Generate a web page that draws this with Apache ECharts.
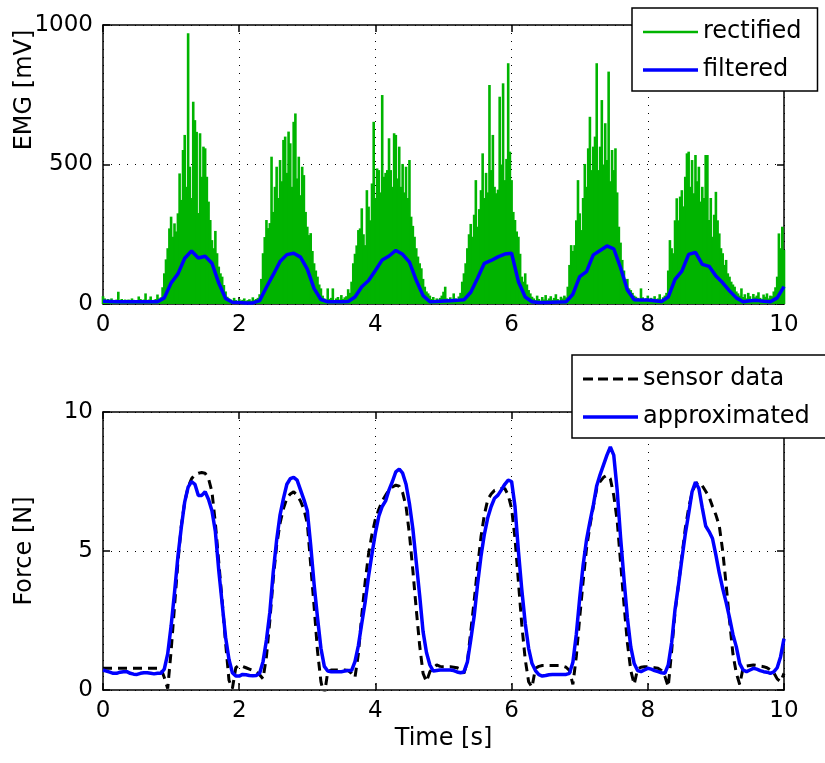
<!DOCTYPE html>
<html>
<head>
<meta charset="utf-8">
<title>EMG and force</title>
<script src="https://cdn.jsdelivr.net/npm/echarts@6/dist/echarts.min.js"></script>
<style>
html, body { margin: 0; padding: 0; background: #fff; }
#chart { width: 825px; height: 763px; }
</style>
</head>
<body>
<div id="chart"></div>
<script>
// time axis, shared by both plots
var timeMin = 0, timeMax = 10, timeStep = 2;

// top plot: rectified EMG, one value per 0.025 s (column peak)
var emgStep = 0.025;
var rectified = [
    28, 20, 15, 18, 12, 20, 14, 10, 16, 44, 12, 18, 14, 16, 10, 16, 12, 20, 15, 12, 14, 27, 18, 12, 16, 38, 14, 16, 27, 12, 15, 18, 34, 20, 24,
    60, 110, 160, 200, 271, 313, 241, 289, 260, 325, 468, 373, 552, 606, 420, 970, 492, 380, 725, 659, 617, 326, 612, 456, 564, 558, 456, 367, 301, 229, 200, 262, 182, 134, 110, 98, 68, 45, 26, 20,
    16, 12, 22, 14, 10, 18, 12, 15, 20, 11, 14, 17, 12, 24, 15, 18, 22, 35,
    90, 182, 240, 301, 272, 290, 528, 330, 420, 492, 380, 516, 440, 588, 600, 470, 618, 576, 420, 653, 683, 450, 528, 390, 492, 462, 330, 277, 247, 254, 190, 146, 120, 98, 70, 56,
    30, 20, 15, 56, 18, 22, 56, 14, 20, 25, 16, 32, 18, 24, 28, 53, 40, 80,
    146, 180, 210, 265, 271, 343, 250, 211, 408, 349, 300, 432, 653, 380, 486, 480, 400, 749, 456, 470, 480, 594, 480, 420, 612, 606, 450, 564, 420, 502, 400, 492, 380, 516, 313, 280, 241, 200, 170, 146, 128, 90, 62, 45, 38, 30,
    18, 25, 14, 20, 16, 22, 30, 44, 62, 20, 15, 24, 18, 38, 20, 14, 27, 40,
    80, 110, 146, 200, 250, 287, 241, 320, 444, 277, 340, 408, 540, 380, 470, 400, 785, 480, 606, 420, 397, 410, 743, 500, 791, 444, 520, 863, 546, 444, 330, 301, 260, 241, 180, 98, 80, 110, 70, 50, 38, 26,
    20, 14, 30, 18, 12, 25, 16, 32, 14, 20, 28, 15, 22, 35, 18, 12, 26, 20, 30, 24,
    62, 140, 211, 190, 211, 300, 444, 325, 265, 380, 502, 420, 558, 671, 480, 564, 600, 863, 480, 564, 731, 500, 648, 516, 833, 440, 552, 480, 558, 400, 277, 220, 158, 120, 74, 90, 56, 50, 40, 30, 26, 22,
    18, 56, 24, 14, 20, 30, 16, 22, 12, 28, 18, 20, 35, 15, 24, 30, 40,
    120, 229, 200, 182, 300, 379, 300, 385, 408, 350, 456, 540, 546, 420, 516, 397, 534, 440, 492, 367, 420, 380, 534, 534, 301, 380, 241, 320, 402, 300, 253, 200, 182, 140, 158, 110, 98, 80, 70, 62, 45, 38, 30,
    56, 25, 35, 20, 40, 28, 18, 36, 24, 30, 42, 22, 16, 34, 26, 38, 20, 30, 28, 45,
    60, 98, 253, 200, 277, 194
];

// filtered EMG, every 0.1 s
var filteredStep = 0.1;
var filtered = [
    10, 9, 8, 8, 8, 8, 8, 8, 8, 22,
    75, 108, 164, 190, 165, 171, 146, 75, 20, 6,
    5, 4, 4, 12, 60, 105, 152, 177, 182, 168,
    125, 55, 16, 8, 8, 8, 9, 25, 62, 84,
    120, 158, 172, 192, 178, 150, 85, 30, 8, 9,
    11, 12, 13, 15, 42, 92, 146, 156, 169, 179,
    182, 80, 25, 8, 5, 5, 6, 7, 8, 35,
    98, 116, 176, 192, 208, 198, 130, 50, 15, 14,
    14, 12, 9, 25, 88, 118, 178, 185, 142, 135,
    100, 76, 47, 22, 8, 12, 13, 10, 8, 22,
    62
];

// bottom plot: force, every 0.05 s
var forceStep = 0.05;
var sensorData = [
    0.78, 0.78, 0.78, 0.78, 0.78, 0.78, 0.78, 0.78, 0.78, 0.78,
    0.78, 0.78, 0.78, 0.78, 0.78, 0.78, 0.78, 0.78, 0.45, 0.05,
    1.4, 3.0, 4.6, 5.9, 6.77, 7.3, 7.6, 7.75, 7.8, 7.82,
    7.8, 7.6, 7.13, 6.0, 4.6, 3.2, 1.7, 0.35, 0.05, 0.8,
    0.9, 0.85, 0.8, 0.75, 0.7, 0.66, 0.55, 0.4, 1.2, 2.5,
    4.0, 5.2, 6.0, 6.53, 6.9, 7.05, 7.13, 7.0, 6.8, 6.5,
    6.0, 4.5, 3.0, 1.4, 0.3, -0.2, 0.66, 0.72, 0.72, 0.72,
    0.72, 0.72, 0.7, 0.6, 0.45, 1.3, 2.7, 3.9, 4.9, 5.6,
    6.15, 6.5, 6.8, 7.0, 7.2, 7.3, 7.37, 7.33, 7.1, 6.6,
    5.6, 4.3, 2.9, 1.6, 0.6, 0.3, 0.66, 0.8, 0.9, 0.85,
    0.84, 0.84, 0.84, 0.82, 0.8, 0.75, 0.6, 1.0, 2.1, 3.2,
    4.4, 5.5, 6.3, 6.85, 7.05, 7.18, 7.22, 7.25, 7.25, 7.01,
    6.53, 5.45, 3.89, 2.34, 1.1, 0.3, 0.1, 0.78, 0.85, 0.88,
    0.88, 0.88, 0.88, 0.88, 0.88, 0.86, 0.82, 0.7, 0.2, 1.2,
    2.6, 3.9, 5.09, 5.9, 6.6, 7.25, 7.5, 7.65, 7.73, 7.6,
    7.0, 6.1, 4.6, 3.1, 1.7, 0.7, 0.2, 0.75, 0.82, 0.84,
    0.84, 0.82, 0.8, 0.78, 0.7, 0.5, 0.12, 1.4, 2.8, 3.77,
    4.8, 5.8, 6.55, 7.1, 7.4, 7.48, 7.35, 7.15, 6.95, 6.6,
    6.3, 5.9, 5.0, 3.8, 2.5, 1.3, 0.6, 0.2, 0.8, 0.86,
    0.88, 0.9, 0.88, 0.86, 0.84, 0.8, 0.72, 0.62, 0.4, 0.3,
    0.6
];
var approximated = [
    0.72, 0.68, 0.64, 0.6, 0.6, 0.64, 0.66, 0.66, 0.6, 0.57,
    0.56, 0.6, 0.62, 0.62, 0.6, 0.58, 0.6, 0.6, 0.75, 1.3,
    2.3, 3.5, 4.8, 5.85, 6.77, 7.3, 7.5, 7.4, 7.0, 7.0,
    7.13, 6.85, 6.45, 5.7, 4.3, 3.1, 1.9, 1.1, 0.62, 0.5,
    0.5, 0.56, 0.55, 0.52, 0.51, 0.52, 0.6, 1.02, 1.8, 2.8,
    4.25, 5.4, 6.3, 6.89, 7.4, 7.6, 7.65, 7.55, 7.2, 6.85,
    6.45, 5.2, 3.8, 2.6, 1.5, 0.85, 0.68, 0.66, 0.66, 0.66,
    0.66, 0.68, 0.7, 0.7, 1.02, 1.6, 2.4, 3.17, 4.1, 4.9,
    5.65, 6.25, 6.6, 6.8, 7.2, 7.5, 7.85, 7.95, 7.8, 7.4,
    6.7, 5.8, 4.6, 3.4, 2.1, 1.35, 0.9, 0.68, 0.7, 0.72,
    0.72, 0.72, 0.72, 0.7, 0.65, 0.62, 0.65, 1.0, 1.8, 2.65,
    3.8, 4.8, 5.6, 6.2, 6.6, 6.9, 7.01, 7.2, 7.4, 7.55,
    7.5, 6.6, 5.0, 3.6, 2.4, 1.5, 0.95, 0.7, 0.55, 0.5,
    0.52, 0.55, 0.56, 0.56, 0.56, 0.56, 0.56, 0.6, 1.0, 2.0,
    3.3, 4.49, 5.4, 6.05, 6.65, 7.35, 7.75, 8.1, 8.45, 8.74,
    8.45, 7.2, 5.5, 4.0, 2.6, 1.55, 0.95, 0.7, 0.66, 0.72,
    0.78, 0.75, 0.7, 0.66, 0.62, 0.6, 0.9, 1.7, 2.9, 3.77,
    4.7, 5.6, 6.35, 7.13, 7.48, 7.25, 6.55, 5.9, 5.7, 5.45,
    4.85, 4.2, 3.65, 3.15, 2.6, 2.0, 1.55, 0.95, 0.72, 0.66,
    0.72, 0.78, 0.75, 0.7, 0.66, 0.64, 0.6, 0.65, 0.8, 1.2,
    1.85
];

var fontFamily = '"DejaVu Sans", sans-serif';
var black = '#000';

function toPairs(values, step) {
    return values.map(function (v, i) {
        return [+(i * step).toFixed(3), v];
    });
}

function plainLabel(v) {
    return String(v);
}

function makeXAxis(gridIndex, position, main, name) {
    return {
        type: 'value',
        gridIndex: gridIndex,
        position: position,
        min: timeMin,
        max: timeMax,
        interval: timeStep,
        name: name || '',
        nameLocation: 'middle',
        nameGap: 37,
        nameTextStyle: { fontFamily: fontFamily, fontSize: 24, color: black },
        axisLine: { show: true, onZero: false, lineStyle: { color: black, width: 1.5 } },
        axisTick: { show: true, inside: true, length: 7, lineStyle: { color: black, width: 1.5 } },
        axisLabel: { show: main, margin: 10, fontFamily: fontFamily, fontSize: 23, color: black, formatter: plainLabel },
        splitLine: { show: main, lineStyle: { color: black, width: 1, type: [1, 7] } }
    };
}

function makeYAxis(gridIndex, position, main, max, step, name) {
    return {
        type: 'value',
        gridIndex: gridIndex,
        position: position,
        min: 0,
        max: max,
        interval: step,
        name: name || '',
        nameLocation: 'middle',
        nameGap: 66,
        nameTextStyle: { fontFamily: fontFamily, fontSize: 24, color: black },
        axisLine: { show: true, onZero: false, lineStyle: { color: black, width: 1.5 } },
        axisTick: { show: true, inside: true, length: 7, lineStyle: { color: black, width: 1.5 } },
        axisLabel: { show: main, margin: 10, fontFamily: fontFamily, fontSize: 23, color: black, formatter: plainLabel },
        splitLine: { show: main, lineStyle: { color: black, width: 1, type: [1, 7] } }
    };
}

function makeLegend(names, icons, left, top) {
    return {
        orient: 'vertical',
        left: left,
        top: top,
        selectedMode: false,
        backgroundColor: '#fff',
        borderColor: black,
        borderWidth: 1.5,
        borderRadius: 0,
        padding: [10, 16, 7, 11],
        itemWidth: 55,
        itemHeight: 14,
        itemGap: 10,
        itemStyle: { borderWidth: 0 },
        textStyle: { fontFamily: fontFamily, fontSize: 24, color: black, lineHeight: 28 },
        data: names.map(function (n, i) { return { name: n, icon: icons[i] }; })
    };
}

var solidIcon = 'path://M0,0H55V3.5H0Z';
var thinIcon = 'path://M0,0H55V2.5H0Z';
var dashIcon = 'path://M0,0H10V3H0Z M15,0H25V3H15Z M30,0H40V3H30Z M45,0H55V3H45Z';

var chart = echarts.init(document.getElementById('chart'), null, { renderer: 'canvas' });

var option = {
    animation: false,
    backgroundColor: '#fff',
    grid: [
        { left: 103, top: 25, width: 681, height: 279 },
        { left: 103, top: 412, width: 681, height: 278 }
    ],
    xAxis: [
        makeXAxis(0, 'bottom', true),
        makeXAxis(0, 'top', false),
        makeXAxis(1, 'bottom', true, 'Time [s]'),
        makeXAxis(1, 'top', false)
    ],
    yAxis: [
        makeYAxis(0, 'left', true, 1000, 500),
        makeYAxis(0, 'right', false, 1000, 500),
        makeYAxis(1, 'left', true, 10, 5, 'Force [N]'),
        makeYAxis(1, 'right', false, 10, 5)
    ],
    legend: [
        makeLegend(['rectified', 'filtered'], [thinIcon, solidIcon], 632, 8),
        makeLegend(['sensor data', 'approximated'], [dashIcon, solidIcon], 572, 355)
    ],
    graphic: [
        {
            type: 'text',
            x: 25,
            y: 90,
            rotation: Math.PI / 2,
            style: {
                text: 'EMG [mV]',
                fontFamily: fontFamily,
                fontSize: 24,
                fill: black,
                align: 'center',
                verticalAlign: 'middle'
            }
        }
    ],
    series: [
        {
            name: 'rectified',
            type: 'bar',
            xAxisIndex: 0,
            yAxisIndex: 0,
            barWidth: 2.6,
            silent: true,
            itemStyle: { color: '#00b400' },
            data: toPairs(rectified, emgStep)
        },
        {
            name: 'filtered',
            type: 'line',
            xAxisIndex: 0,
            yAxisIndex: 0,
            symbol: 'none',
            silent: true,
            lineStyle: { color: '#0000ff', width: 3.5 },
            itemStyle: { color: '#0000ff' },
            data: toPairs(filtered, filteredStep)
        },
        {
            name: 'sensor data',
            type: 'line',
            xAxisIndex: 2,
            yAxisIndex: 2,
            symbol: 'none',
            silent: true,
            lineStyle: { color: black, width: 3, type: [9, 6] },
            itemStyle: { color: black },
            data: toPairs(sensorData, forceStep)
        },
        {
            name: 'approximated',
            type: 'line',
            xAxisIndex: 2,
            yAxisIndex: 2,
            symbol: 'none',
            silent: true,
            lineStyle: { color: '#0000ff', width: 3.5 },
            itemStyle: { color: '#0000ff' },
            data: toPairs(approximated, forceStep)
        }
    ]
};

chart.setOption(option);
</script>
</body>
</html>
